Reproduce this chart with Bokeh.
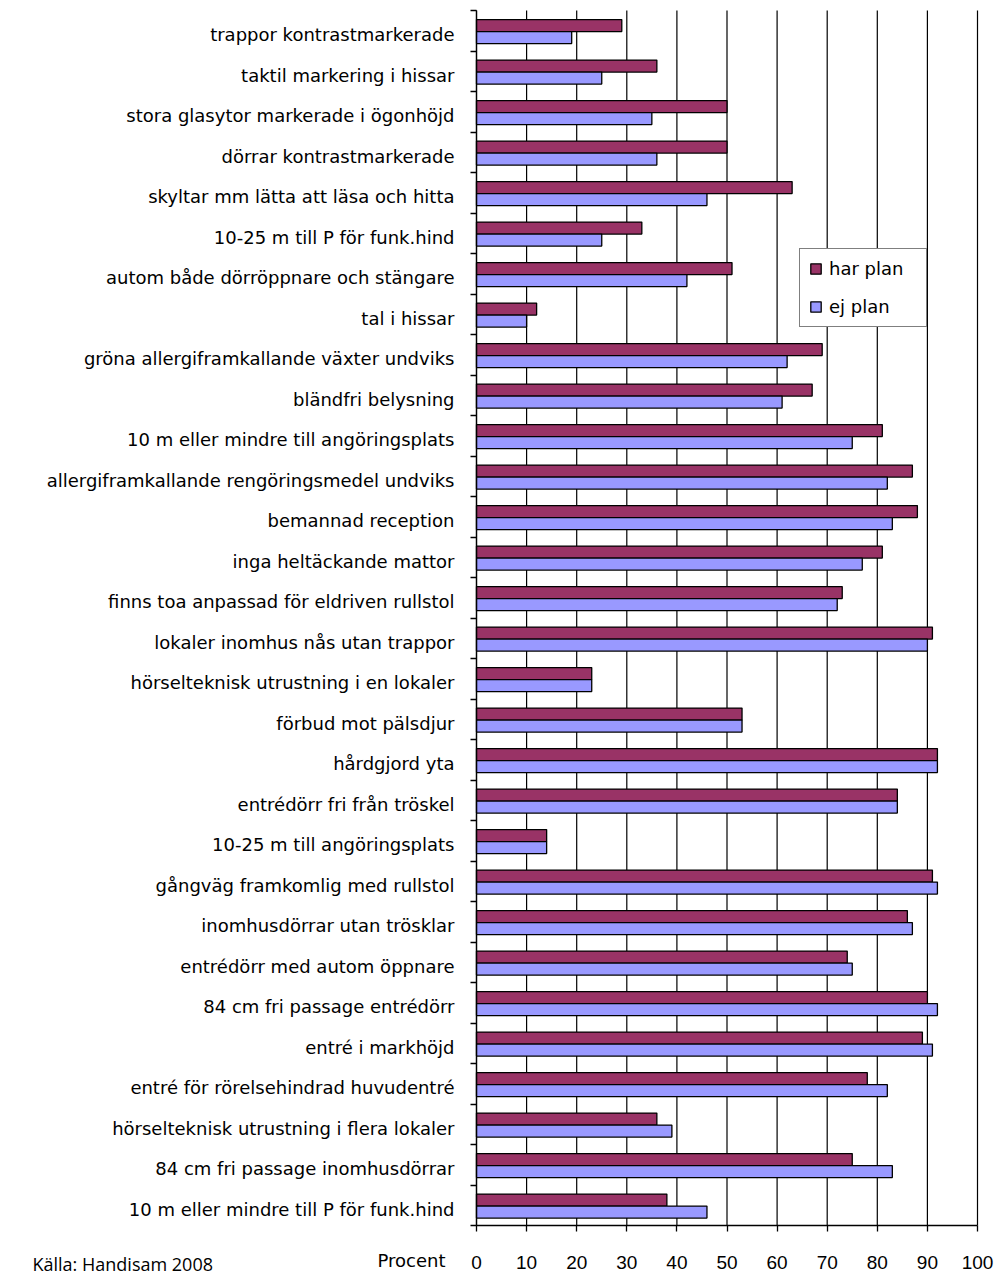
from bokeh.plotting import figure
from bokeh.models import (ColumnDataSource, Range1d, FixedTicker, Legend, LegendItem, Label)
from bokeh.transform import dodge
from bokeh.embed import file_html
from bokeh.resources import INLINE

categories = [
    "trappor kontrastmarkerade",
    "taktil markering i hissar",
    "stora glasytor markerade i ögonhöjd",
    "dörrar kontrastmarkerade",
    "skyltar mm lätta att läsa och hitta",
    "10-25 m till P för funk.hind",
    "autom både dörröppnare och stängare",
    "tal i hissar",
    "gröna allergiframkallande växter undviks",
    "bländfri belysning",
    "10 m eller mindre till angöringsplats",
    "allergiframkallande rengöringsmedel undviks",
    "bemannad reception",
    "inga heltäckande mattor",
    "finns toa anpassad för eldriven rullstol",
    "lokaler inomhus nås utan trappor",
    "hörselteknisk utrustning i en lokaler",
    "förbud mot pälsdjur",
    "hårdgjord yta",
    "entrédörr fri från tröskel",
    "10-25 m till angöringsplats",
    "gångväg framkomlig med rullstol",
    "inomhusdörrar utan trösklar",
    "entrédörr med autom öppnare",
    "84 cm fri passage entrédörr",
    "entré i markhöjd",
    "entré för rörelsehindrad huvudentré",
    "hörselteknisk utrustning i flera lokaler",
    "84 cm fri passage inomhusdörrar",
    "10 m eller mindre till P för funk.hind",
]
har_plan = [29, 36, 50, 50, 63, 33, 51, 12, 69, 67, 81, 87, 88, 81, 73,
            91, 23, 53, 92, 84, 14, 91, 86, 74, 90, 89, 78, 36, 75, 38]
ej_plan = [19, 25, 35, 36, 46, 25, 42, 10, 62, 61, 75, 82, 83, 77, 72,
           90, 23, 53, 92, 84, 14, 92, 87, 75, 92, 91, 82, 39, 83, 46]
x_ticks = [0, 10, 20, 30, 40, 50, 60, 70, 80, 90, 100]
series_names = ["har plan", "ej plan"]
colors = ["#993366", "#9999FF"]
axis_title = "Procent"
source_note = "Källa: Handisam 2008"

n = len(categories)
x_max = x_ticks[-1]

# canvas / plot-area geometry (pixels)
W, H = 998, 1277
F_LEFT, F_RIGHT, F_TOP, F_BOTTOM = 476, 977, 10, 1225
px_x = (F_RIGHT - F_LEFT) / x_max
px_y = (F_BOTTOM - F_TOP) / n
x_lo = -F_LEFT / px_x
x_hi = x_max + (W - F_RIGHT) / px_x
y_top = -F_TOP / px_y
y_bot = n + (H - F_BOTTOM) / px_y

pos = [i + 0.52 for i in range(n)]
source = ColumnDataSource(dict(cat=categories, har=har_plan, ej=ej_plan, pos=pos))

p = figure(width=W, height=H, output_backend="svg", toolbar_location=None,
           x_range=Range1d(x_lo, x_hi), y_range=Range1d(y_bot, y_top),
           min_border=0, min_border_left=0, min_border_right=0,
           min_border_top=0, min_border_bottom=0)
p.outline_line_color = None
p.background_fill_color = "white"
p.border_fill_color = "white"
p.xgrid.grid_line_color = None
p.ygrid.grid_line_color = None

# vertical grid lines at the x ticks, spanning the category area
p.segment(x0=x_ticks, y0=[0] * len(x_ticks), x1=x_ticks, y1=[n] * len(x_ticks),
          line_color="black", line_width=1.2)

bar_h = 0.296
r1 = p.hbar(y=dodge("pos", -bar_h / 2, range=p.y_range), left=0, right="har",
            height=bar_h, source=source, fill_color=colors[0],
            line_color="black", line_width=1.3)
r2 = p.hbar(y=dodge("pos", bar_h / 2, range=p.y_range), left=0, right="ej",
            height=bar_h, source=source, fill_color=colors[1],
            line_color="black", line_width=1.3)

# x axis
xa = p.xaxis[0]
xa.fixed_location = n
xa.bounds = (0, x_max)
xa.ticker = FixedTicker(ticks=x_ticks, minor_ticks=[])
xa.axis_line_color = "black"
xa.axis_line_width = 1.3
xa.major_tick_line_color = "black"
xa.major_tick_line_width = 1.3
xa.major_tick_out = 6
xa.major_tick_in = 0
xa.minor_tick_line_color = None
xa.major_label_text_font = "Liberation Sans"
xa.major_label_text_font_size = "19px"
xa.major_label_text_color = "black"
xa.major_label_standoff = 24

# y axis
ya = p.yaxis[0]
ya.fixed_location = 0
ya.bounds = (0, n)
label_ticks = [i + 0.6 for i in range(n)]
ya.ticker = FixedTicker(ticks=label_ticks, minor_ticks=list(range(n + 1)))
ya.major_label_overrides = {t: c for t, c in zip(label_ticks, categories)}
ya.axis_line_color = "black"
ya.axis_line_width = 1.3
ya.major_tick_line_color = None
ya.major_tick_out = 0
ya.major_tick_in = 0
ya.minor_tick_line_color = "black"
ya.minor_tick_line_width = 1.3
ya.minor_tick_out = 6
ya.minor_tick_in = 0
ya.major_label_text_font = "DejaVu Sans"
ya.major_label_text_font_size = "18px"
ya.major_label_text_color = "black"
ya.major_label_standoff = 16

legend = Legend(items=[LegendItem(label=series_names[0], renderers=[r1]),
                       LegendItem(label=series_names[1], renderers=[r2])],
                location=(799, H - 327), margin=0, padding=9, spacing=17,
                glyph_width=13, glyph_height=13, label_standoff=7,
                label_width=88, label_text_font="DejaVu Sans",
                label_text_font_size="18px", label_text_color="black",
                border_line_color="black", border_line_width=1.3,
                background_fill_color="white", background_fill_alpha=1.0)
p.add_layout(legend, "center")

p.add_layout(Label(x=0, y=n, x_units="data", y_units="data", text=axis_title,
                   x_offset=-31, y_offset=-35, text_align="right",
                   text_baseline="alphabetic", text_font="DejaVu Sans",
                   text_font_size="18px", text_color="black"))
p.add_layout(Label(x=0, y=n, x_units="data", y_units="data", text=source_note,
                   x_offset=-444, y_offset=-38, text_align="left",
                   text_baseline="alphabetic", text_font="Open Sans",
                   text_font_size="18px", text_color="black"))

open("out.html", "w").write(file_html(p, INLINE))
